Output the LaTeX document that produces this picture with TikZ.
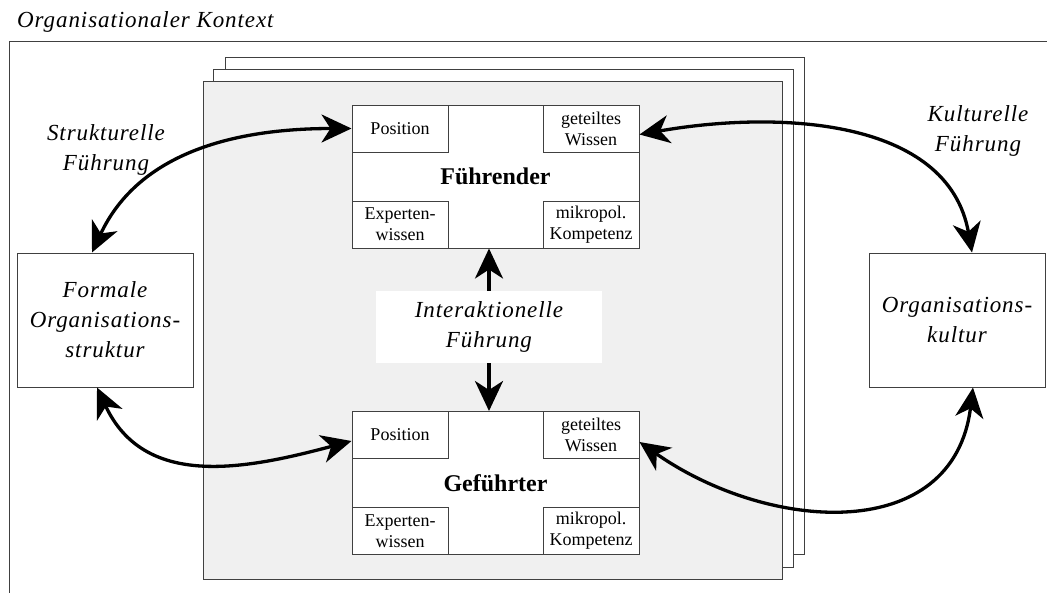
\documentclass[tikz,border=0pt]{standalone}
\usepackage{fontspec}
\setmainfont{Liberation Serif}
\newfontfamily\labelfont[LetterSpace=4]{Liberation Serif}
\usetikzlibrary{arrows.meta}

\tikzset{
  bighead/.tip={Stealth[length=30pt, width=28pt, inset=9pt]},
  frame/.style={draw=black!75, line width=1pt},
  page/.style={frame, fill=white},
  person/.style={frame, fill=white, minimum width=287pt, minimum height=143pt,
    font=\fontsize{24}{28}\selectfont\bfseries},
  cell/.style={frame, fill=white, minimum width=96pt, minimum height=47pt,
    inner sep=0pt, align=center, font=\fontsize{18}{21}\selectfont},
  context/.style={frame, fill=white, minimum width=176pt, minimum height=134pt,
    align=center, font=\labelfont\itshape\fontsize{23}{30}\selectfont},
  lbl/.style={inner sep=0pt, align=center, font=\labelfont\itshape\fontsize{23}{30}\selectfont},
  link/.style={line width=3.3pt, bighead-bighead},
  push/.style={line width=3.5pt, -bighead}
}

\begin{document}
\begin{tikzpicture}[x=1pt, y=1pt]
  \useasboundingbox (0,0) rectangle (1047,-592);
  % context frame and title
  \node[lbl, anchor=west] (title) at (17,-22) {Organisationaler Kontext};
  \draw[frame] (9,-620) |- (1070,-41);
  % stacked pages
  \draw[page] (225,-57) rectangle (804,-554);
  \draw[page] (213,-69) rectangle (793,-567);
  \draw[page, fill=black!6] (203,-81) rectangle (782,-579);
  % leader
  \node[person] (fuehr) at (495.5,-176.5) {Führender};
  \node[cell, anchor=north west] (fpos) at (fuehr.north west) {Position};
  \node[cell, anchor=north east] (fwis) at (fuehr.north east) {geteiltes\\Wissen};
  \node[cell, anchor=south west] (fexp) at (fuehr.south west) {Experten-\\wissen};
  \node[cell, anchor=south east] (fmik) at (fuehr.south east) {mikropol.\\Kompetenz};
  % follower
  \node[person] (gefuehr) at (495.5,-483) {Geführter};
  \node[cell, anchor=north west] (gpos) at (gefuehr.north west) {Position};
  \node[cell, anchor=north east] (gwis) at (gefuehr.north east) {geteiltes\\Wissen};
  \node[cell, anchor=south west] (gexp) at (gefuehr.south west) {Experten-\\wissen};
  \node[cell, anchor=south east] (gmik) at (gefuehr.south east) {mikropol.\\Kompetenz};
  % interaction
  \node[lbl, fill=white, minimum width=226pt, minimum height=72pt] (inter) at (489,-327)
    {Interaktionelle\\Führung};
  \draw[push] (inter.north) -- (inter.north |- fuehr.south);
  \draw[push] (inter.south) -- (inter.south |- gefuehr.north);
  % context boxes
  \node[context] (formal) at (105,-320) {Formale\\Organisations-\\struktur};
  \node[context] (kultur) at (957,-320) {Organisations-\\kultur};
  \node[lbl] (struk) at (106,-150) {Strukturelle\\Führung};
  \node[lbl] (kult) at (978,-131) {Kulturelle\\Führung};
  % leadership links
  \draw[link] (fpos.west) to[out=180, in=65] ([xshift=-13pt]formal.north);
  \draw[link] ([yshift=-6pt]fwis.east) to[out=10, in=100] ([xshift=15pt]kultur.north);
  \draw[link] ([xshift=-8pt]formal.south) to[out=-65, in=195, looseness=1.1] ([yshift=-6pt]gpos.west);
  \draw[link] ([yshift=-7pt]gwis.east) to[out=-35, in=-97, looseness=1.2] ([xshift=16pt]kultur.south);
\end{tikzpicture}
\end{document}
